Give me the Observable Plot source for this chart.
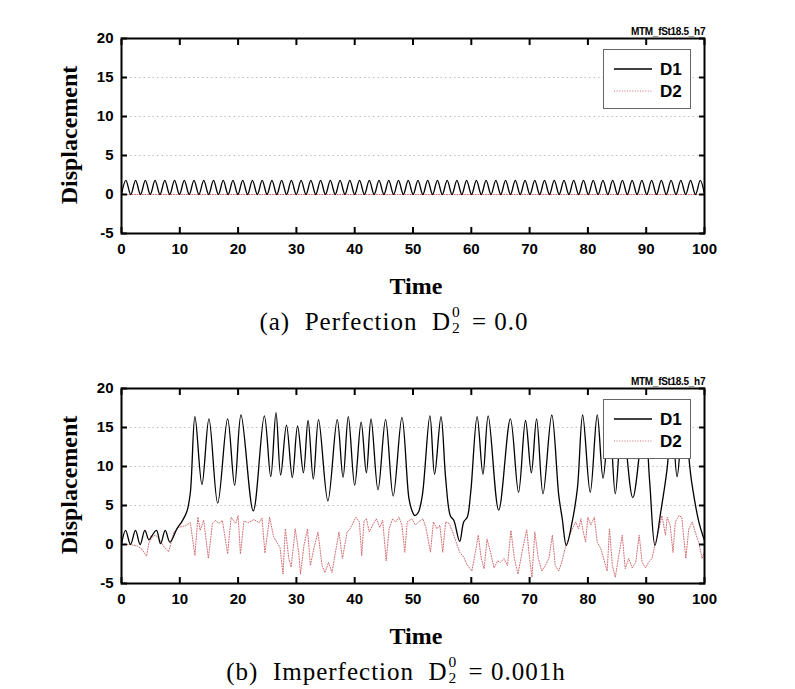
<!DOCTYPE html>
<html><head><meta charset="utf-8">
<script src="https://cdn.jsdelivr.net/npm/d3@7"></script>
<script src="https://cdn.jsdelivr.net/npm/@observablehq/plot@0.6"></script>
<style>
body{margin:0;background:#fff;}
#page{position:relative;width:795px;height:689px;overflow:hidden;background:#fff;}
.plot{position:absolute;left:0;}
.ylab{position:absolute;width:220px;text-align:center;font:bold 24px "Liberation Serif";transform:rotate(-90deg);transform-origin:center center;white-space:nowrap;line-height:26px;}
.xlab{position:absolute;width:300px;text-align:center;font:bold 24px "Liberation Serif";line-height:26px;}
.cap{position:absolute;width:500px;text-align:center;font:25px "Liberation Serif";line-height:28px;white-space:pre;letter-spacing:1px;}
.ss{display:inline-block;position:relative;width:0.55em;height:1em;}
.ss .sp{position:absolute;left:1px;top:-0.45em;font-size:0.62em;}
.ss .sb{position:absolute;left:1px;top:0.55em;font-size:0.62em;}
.tag{position:absolute;font:bold 10px "Liberation Sans";letter-spacing:-0.3px;}
.legend{position:absolute;left:603px;width:88px;height:60px;box-sizing:border-box;border:1.5px solid #666;background:#fff;}
</style>
</head><body>
<div id="page">
  <div class="plot" id="p1" style="top:0px"></div>
  <div class="plot" id="p2" style="top:350px"></div>

  <div class="ylab" style="left:-41px;top:122px">Displacement</div>
  <div class="ylab" style="left:-41px;top:472px">Displacement</div>

  <div class="xlab" style="left:266px;top:273px">Time</div>
  <div class="xlab" style="left:266px;top:623px">Time</div>

  <div class="cap" style="left:144px;top:305px">(a)  Perfection  D<span class="ss"><span class="sp">0</span><span class="sb">2</span></span> = 0.0</div>
  <div class="cap" style="left:146px;top:655px">(b)  Imperfection  D<span class="ss"><span class="sp">0</span><span class="sb">2</span></span> = 0.001h</div>

  <div class="tag" style="left:631px;top:26px">MTM_fSt18.5_h7</div>
  <div class="tag" style="left:631px;top:376px">MTM_fSt18.5_h7</div>

  <div class="legend" id="lg1" style="top:49px"></div>
  <div class="legend" id="lg2" style="top:399px"></div>
</div>
<script>
// ---- axes ----
const xTicks = [0,10,20,30,40,50,60,70,80,90,100];
const yTicks = [-5,0,5,10,15,20];
const gridVals = [5,10,15];
const seriesNames = ["D1","D2"];

// ---- (a) Perfection: D1 oscillation peaks/troughs, D2 flat ----
const topTime = [0,0.75,1.59,2.42,3.26,4.09,4.93,5.76,6.60,7.43,8.27,9.10,9.94,10.77,11.61,12.44,13.28,14.11,14.95,15.78,16.62,17.45,18.29,19.12,19.96,20.79,21.63,22.46,23.30,24.13,24.97,25.80,26.64,27.47,28.31,29.14,29.98,30.81,31.65,32.48,33.32,34.15,34.99,35.82,36.66,37.49,38.33,39.16,40.00,40.83,41.67,42.50,43.34,44.17,45.01,45.84,46.68,47.51,48.35,49.18,50.02,50.85,51.69,52.52,53.36,54.19,55.03,55.86,56.70,57.53,58.37,59.20,60.04,60.87,61.71,62.54,63.38,64.21,65.05,65.88,66.72,67.55,68.39,69.22,70.06,70.89,71.73,72.56,73.40,74.23,75.07,75.90,76.74,77.57,78.41,79.24,80.08,80.91,81.75,82.58,83.42,84.25,85.09,85.92,86.76,87.59,88.43,89.26,90.10,90.93,91.77,92.60,93.44,94.27,95.11,95.94,96.78,97.61,98.45,99.28,100];
const topD1 = [0,1.8,0,1.8,0,1.8,0,1.8,0,1.8,
  0,1.8,0,1.8,0,1.8,0,1.8,0,1.8,
  0,1.8,0,1.8,0,1.8,0,1.8,0,1.8,
  0,1.8,0,1.8,0,1.8,0,1.8,0,1.8,
  0,1.8,0,1.8,0,1.8,0,1.8,0,1.8,
  0,1.8,0,1.8,0,1.8,0,1.8,0,1.8,
  0,1.8,0,1.8,0,1.8,0,1.8,0,1.8,
  0,1.8,0,1.8,0,1.8,0,1.8,0,1.8,
  0,1.8,0,1.8,0,1.8,0,1.8,0,1.8,
  0,1.8,0,1.8,0,1.8,0,1.8,0,1.8,
  0,1.8,0,1.8,0,1.8,0,1.8,0,1.8,
  0,1.8,0,1.8,0,1.8,0,1.8,0,1.8,
  0];
const topD2Time = [0,100];
const topD2 = [0,0];

// ---- (b) Imperfection ----
const botD1Time = [0,0.7,1.55,2.4,3.2,4.0,4.7,5.2,6.0,6.7,7.5,8.3,9.5,10.4,11.2,11.8,12.6,13.8,15.0,16.5,18.2,19.4,20.5,22.6,24.5,25.6,26.5,27.3,28.3,29.3,30.2,31.2,32.0,32.9,33.8,35.4,37.0,38.0,38.9,40.0,41.1,42.0,42.8,44.0,45.3,46.6,48.1,49.3,49.8,50.3,50.9,51.6,52.9,53.7,54.8,55.6,56.4,57.0,58.0,58.7,59.3,59.9,61.0,62.0,62.9,64.7,66.7,68.1,69.3,70.3,71.2,72.3,73.8,75.0,75.6,76.3,77.3,78.2,79.1,80.4,81.6,82.6,83.7,84.7,85.9,87.7,89.7,90.6,91.5,92.5,93.6,94.4,95.3,96.4,97.8,99.0,100];
const botD1 = [0,1.8,0.0,1.8,0.0,1.8,0.6,1.1,1.8,0.1,1.8,0.3,2.0,3.0,4.2,6.6,16.4,7.7,16.1,5.3,16.1,7.6,16.6,4.3,16.5,8.7,16.9,8.9,15.3,8.6,15.2,9.2,15.9,8.4,16.0,5.6,16.0,8.6,16.4,7.6,15.7,9.2,16.1,7.0,16.0,6.2,16.3,5.9,4.4,3.7,4.1,6.3,16.5,9.0,16.4,8.5,3.7,3.1,0.4,2.9,3.5,6.7,16.4,9.0,16.5,4.4,16.1,6.7,15.9,9.2,16.1,6.5,16.6,6.3,3.3,-0.1,2.9,7.2,16.6,6.7,16.6,8.5,16.2,6.5,16.0,6.0,16.3,8.0,-0.1,4.2,9.8,16.3,8.7,16.3,8.0,3.0,0.5];
const botD2Time = [0,1.5,2.7,3.5,4.3,4.7,5.3,5.8,6.4,7.3,8.1,9.0,9.8,11.0,11.8,12.6,13.1,13.5,14.1,14.9,15.6,16.1,16.7,17.3,18.2,18.8,19.6,20.0,20.4,21.0,21.8,22.7,23.6,24.1,24.6,25.4,26.1,26.7,27.2,27.7,28.1,28.7,29.1,29.8,30.4,30.7,31.3,31.9,32.4,33.0,33.7,34.4,34.9,35.5,36.1,36.7,37.3,37.9,38.7,39.2,40.2,40.8,41.2,41.6,42.0,42.5,43.1,43.7,44.3,44.8,45.4,45.9,46.5,47.0,47.6,48.1,48.6,49.0,49.8,50.4,51.0,51.7,52.2,53.0,53.5,54.1,54.6,55.1,55.6,56.2,56.8,57.4,58.0,58.7,59.2,60.1,60.7,61.2,61.7,62.2,62.7,63.3,63.9,64.5,65.0,65.6,66.2,66.8,67.4,68.0,68.7,69.5,70.0,70.4,70.9,71.5,72.1,72.7,73.3,73.9,74.4,75.0,75.5,76.1,76.7,77.3,77.9,78.4,78.8,79.1,79.6,80.0,80.5,81.1,81.6,82.2,82.7,83.3,83.7,84.2,84.7,85.3,85.9,86.4,87.0,87.6,88.2,88.8,89.3,89.9,90.4,91.0,91.6,92.2,92.7,93.3,93.6,94.1,94.6,95.0,95.6,96.1,96.8,97.3,97.9,98.4,99.0,99.6,100];
const botD2 = [0,0,-0.2,-0.6,-1.5,0.2,1.0,1.2,0.8,-0.3,
  -0.9,1.6,2.2,2.4,2.8,-1.4,3.5,1.8,3.1,-1.8,
  2.7,3.1,2.7,3.1,-1.2,3.5,2.7,3.7,-1.2,3.0,
  2.8,3.2,2.8,3.4,-1.1,3.5,1.0,0.2,-0.4,-3.8,
  2.0,-1.8,-2.9,2.0,-1.0,-3.8,-0.1,2.0,-2.7,-0.5,
  1.6,-2.7,-3.6,-2.3,-3.6,-1.0,1.6,-1.8,1.6,2.0,
  3.5,2.9,-1.4,3.0,3.3,1.6,2.5,3.3,2.2,3.1,
  -2.1,2.0,3.3,2.9,3.5,2.5,-1.0,2.9,3.3,2.5,
  2.9,3.3,2.2,-1.0,2.9,2.0,2.5,-1.0,2.9,2.7,
  1.6,0.3,-1.0,-1.6,-2.5,-3.4,-1.0,1.2,-1.8,-3.1,
  0.7,-1.0,-3.0,-2.1,-2.3,-1.8,-2.7,1.8,-1.8,-3.8,
  -1.0,1.9,-1.8,-4.2,1.6,-1.8,-3.4,-2.7,-1.8,1.2,
  -2.7,-3.4,-2.3,-0.5,0.8,2.0,2.9,2.0,3.3,2.0,
  0.3,3.5,2.5,3.5,0.3,-0.5,-1.8,-3.4,2.0,-2.7,
  -4.2,-1.4,1.2,-3.1,-1.8,-3.0,-2.3,1.2,-2.3,-3.0,
  -2.3,-1.8,0.3,2.0,3.7,1.2,3.5,2.5,-1.0,2.9,
  3.7,3.5,-1.8,2.0,2.9,1.6,0.3,-1.8,-0.9];

const D1_COLOR = "#000000";
const D2_COLOR = "#d26a70";

function rows(ts, vs){ return ts.map((t,i)=>({t, v: vs[i]})); }

function panel(d1, d2){
  const blank = () => "";
  const plain = d => String(d);
  return Plot.plot({
    width: 795, height: 263,
    marginLeft: 121, marginRight: 91, marginTop: 38, marginBottom: 30,
    style: {fontFamily: "Liberation Sans", fontSize: "15px", fontWeight: "bold", color: "#000", background: "transparent", overflow: "visible"},
    x: {domain: [0,100], label: null},
    y: {domain: [-5,20], label: null},
    marks: [
      Plot.gridY(gridVals, {stroke: "#b0b0b0", strokeOpacity: 0.8, strokeDasharray: "1.5,3", strokeWidth: 1}),
      Plot.line(d2, {x: "t", y: "v", stroke: D2_COLOR, strokeWidth: 1, strokeDasharray: "1,1.6", curve: "linear"}),
      Plot.line(d1, {x: "t", y: "v", stroke: D1_COLOR, strokeWidth: 1.3, curve: "catmull-rom"}),
      Plot.axisX(xTicks, {anchor: "bottom", tickSize: 0, tickPadding: 10, tickFormat: plain, label: null}),
      Plot.axisY(yTicks, {anchor: "left", tickSize: 0, tickPadding: 8, tickFormat: plain, label: null}),
      Plot.axisX(xTicks, {anchor: "bottom", tickSize: -6, strokeWidth: 2, tickFormat: blank, label: null}),
      Plot.axisX(xTicks, {anchor: "top", tickSize: -6, strokeWidth: 2, tickFormat: blank, label: null}),
      Plot.axisY(yTicks, {anchor: "left", tickSize: -6, strokeWidth: 2, tickFormat: blank, label: null}),
      Plot.axisY(yTicks, {anchor: "right", tickSize: -6, strokeWidth: 2, tickFormat: blank, label: null}),
      Plot.frame({stroke: "#000", strokeWidth: 2})
    ]
  });
}

document.getElementById("p1").append(panel(rows(topTime, topD1), rows(topD2Time, topD2)));
document.getElementById("p2").append(panel(rows(botD1Time, botD1), rows(botD2Time, botD2)));

function legend(el){
  el.innerHTML = `<svg width="85" height="57" style="display:block">
    <line x1="10" y1="19" x2="48" y2="19" stroke="${D1_COLOR}" stroke-width="1.3"/>
    <line x1="10" y1="41" x2="48" y2="41" stroke="${D2_COLOR}" stroke-width="1" stroke-dasharray="1,1.6"/>
    <text x="56" y="25" font-family="Liberation Sans" font-weight="bold" font-size="17">${seriesNames[0]}</text>
    <text x="56" y="47" font-family="Liberation Sans" font-weight="bold" font-size="17">${seriesNames[1]}</text>
  </svg>`;
}
legend(document.getElementById("lg1"));
legend(document.getElementById("lg2"));
</script>
</body></html>
